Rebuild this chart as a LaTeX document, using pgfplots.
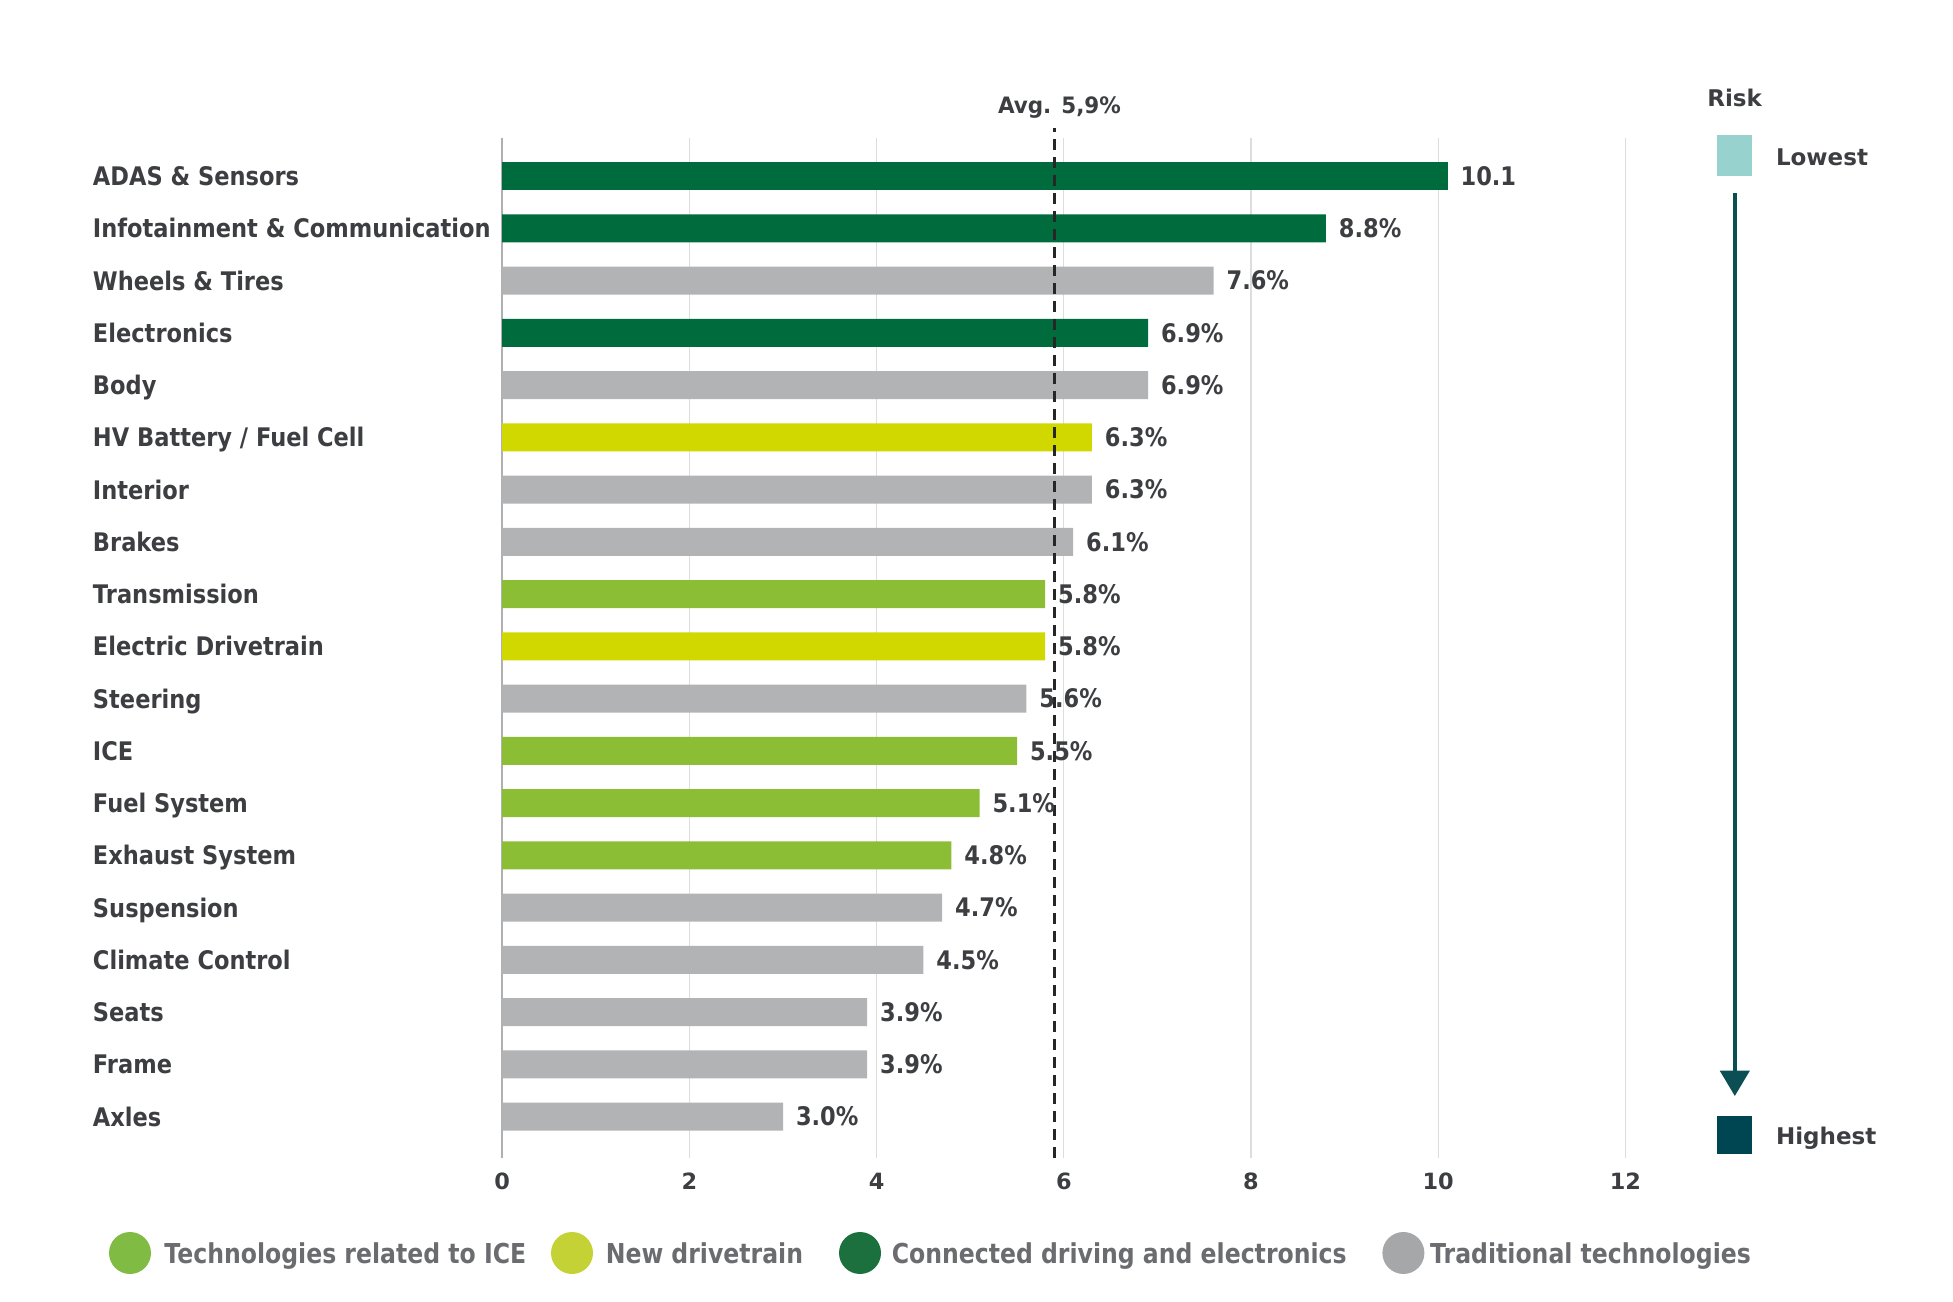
\documentclass[border=0pt]{standalone}
\usepackage{fontspec}
\setmainfont{DejaVu Sans}
\newfontfamily\dejavu{DejaVu Sans}
\newfontfamily\lab{DejaVu Sans}[FakeStretch=0.88]
\newfontfamily\avgf{DejaVu Sans}[FakeStretch=0.95]
\newfontfamily\legf{DejaVu Sans}[FakeStretch=0.86]
\usepackage{pgfplots}
\pgfplotsset{compat=1.18}
\usetikzlibrary{arrows.meta}
\definecolor{dgreen}{HTML}{006B3D}
\definecolor{bgray}{HTML}{B2B3B5}
\definecolor{byellow}{HTML}{D0D800}
\definecolor{lgreen}{HTML}{8BBE34}
\definecolor{txt}{HTML}{3D3E42}
\definecolor{legtxt}{HTML}{6B6C6F}
\definecolor{c1}{HTML}{80BB44}
\definecolor{c2}{HTML}{C4D236}
\definecolor{c3}{HTML}{1B703E}
\definecolor{c4}{HTML}{A5A7A9}
\definecolor{lowc}{HTML}{98D2CE}
\definecolor{highc}{HTML}{004652}
\definecolor{arrc}{HTML}{0B4F55}
\definecolor{gridc}{HTML}{DDDDDD}
\definecolor{zeroc}{HTML}{B0B0B0}
\begin{document}
\begin{tikzpicture}
\useasboundingbox (0,0) rectangle (976.5pt,650.5pt);
\begin{axis}[
  at={(251.1pt,71.5pt)}, anchor=south west,
  width=561.6pt, height=510pt, scale only axis,
  xmin=0, xmax=12, ymin=-0.73, ymax=18.79, y dir=reverse,
  clip=false,
  axis line style={draw=none},
  major tick length=0pt,
  tick style={draw=none},
  xtick={0,2,4,6,8,10,12},
  xmajorgrids, grid style={gridc, line width=0.6pt},
  xticklabel style={font=\dejavu\bfseries\fontsize{11.2}{13}\selectfont, text=txt, yshift=-4pt},
  /pgf/number format/assume math mode=true,
  ytick={0,...,18},
  yticklabels={ADAS \& Sensors, Infotainment \& Communication, Wheels \& Tires, Electronics, Body, HV Battery / Fuel Cell, Interior, Brakes, Transmission, Electric Drivetrain, Steering, ICE, Fuel System, Exhaust System, Suspension, Climate Control, Seats, Frame, Axles},
  yticklabel style={anchor=base west, inner sep=0pt, xshift=-204.8pt, yshift=-4.7pt, font=\lab\bfseries\fontsize{12.8}{15}\selectfont, text=txt},
  nodes near coords style={anchor=base west, inner sep=0pt, xshift=6.3pt, yshift=-4.6pt, font=\lab\bfseries\fontsize{12.8}{15}\selectfont, text=txt},
]
\draw[zeroc, line width=0.8pt] (axis cs:0,-0.73) -- (axis cs:0,18.79);
% Connected driving and electronics
\addplot[xbar, bar width=14pt, bar shift=0pt, fill=dgreen, draw=none, point meta=x,
  nodes near coords={\pgfmathprintnumber[fixed,precision=1,fixed zerofill]{\pgfplotspointmeta}}]
  coordinates {(10.1,0)};
\addplot[xbar, bar width=14pt, bar shift=0pt, fill=dgreen, draw=none, point meta=x,
  nodes near coords={\pgfmathprintnumber[fixed,precision=1,fixed zerofill]{\pgfplotspointmeta}\%}]
  coordinates {(8.8,1) (6.9,3)};
% Traditional technologies
\addplot[xbar, bar width=14pt, bar shift=0pt, fill=bgray, draw=none, point meta=x,
  nodes near coords={\pgfmathprintnumber[fixed,precision=1,fixed zerofill]{\pgfplotspointmeta}\%}]
  coordinates {(7.6,2) (6.9,4) (6.3,6) (6.1,7) (5.6,10) (4.7,14) (4.5,15) (3.9,16) (3.9,17) (3.0,18)};
% New drivetrain
\addplot[xbar, bar width=14pt, bar shift=0pt, fill=byellow, draw=none, point meta=x,
  nodes near coords={\pgfmathprintnumber[fixed,precision=1,fixed zerofill]{\pgfplotspointmeta}\%}]
  coordinates {(6.3,5) (5.8,9)};
% Technologies related to ICE
\addplot[xbar, bar width=14pt, bar shift=0pt, fill=lgreen, draw=none, point meta=x,
  nodes near coords={\pgfmathprintnumber[fixed,precision=1,fixed zerofill]{\pgfplotspointmeta}\%}]
  coordinates {(5.8,8) (5.5,11) (5.1,12) (4.8,13)};
% average line
\draw[black!85, line width=1.3pt, dash pattern=on 5.5pt off 3.5pt] (axis cs:5.9,18.79) -- (axis cs:5.9,-0.93);
\node[font=\avgf\bfseries\fontsize{11.3}{13}\selectfont, text=txt, xshift=2.5pt] at (axis cs:5.9,-1.32) {Avg. 5,9\%};
\end{axis}
% Risk scale
\node[font=\dejavu\bfseries\fontsize{11.5}{13}\selectfont, text=txt] at (867.3pt,601.3pt) {Risk};
\fill[lowc] (858.7pt,562.7pt) rectangle (876.2pt,583pt);
\node[anchor=west, inner sep=0pt, font=\dejavu\bfseries\fontsize{11.5}{13}\selectfont, text=txt] at (887.8pt,571.8pt) {Lowest};
\draw[arrc, line width=1.7pt, -{Triangle[width=14.7pt,length=12.7pt]}] (867.4pt,554pt) -- (867.4pt,102.5pt);
\fill[highc] (858.7pt,73.3pt) rectangle (876.2pt,92.7pt);
\node[anchor=west, inner sep=0pt, font=\dejavu\bfseries\fontsize{11.5}{13}\selectfont, text=txt] at (887.8pt,81.3pt) {Highest};
% Legend
\begin{scope}[every node/.style={anchor=base west, inner sep=0pt, font=\legf\bfseries\fontsize{13.7}{16}\selectfont, text=legtxt}]
\fill[c1] (65pt,24pt) circle (10.5pt);
\node at (82pt,19pt) {Technologies related to ICE};
\fill[c2] (286pt,24pt) circle (10.5pt);
\node at (302.7pt,19pt) {New drivetrain};
\fill[c3] (430pt,24pt) circle (10.5pt);
\node at (445.7pt,19pt) {Connected driving and electronics};
\fill[c4] (701.7pt,24pt) circle (10.5pt);
\node at (714.9pt,19pt) {Traditional technologies};
\end{scope}
\end{tikzpicture}
\end{document}
